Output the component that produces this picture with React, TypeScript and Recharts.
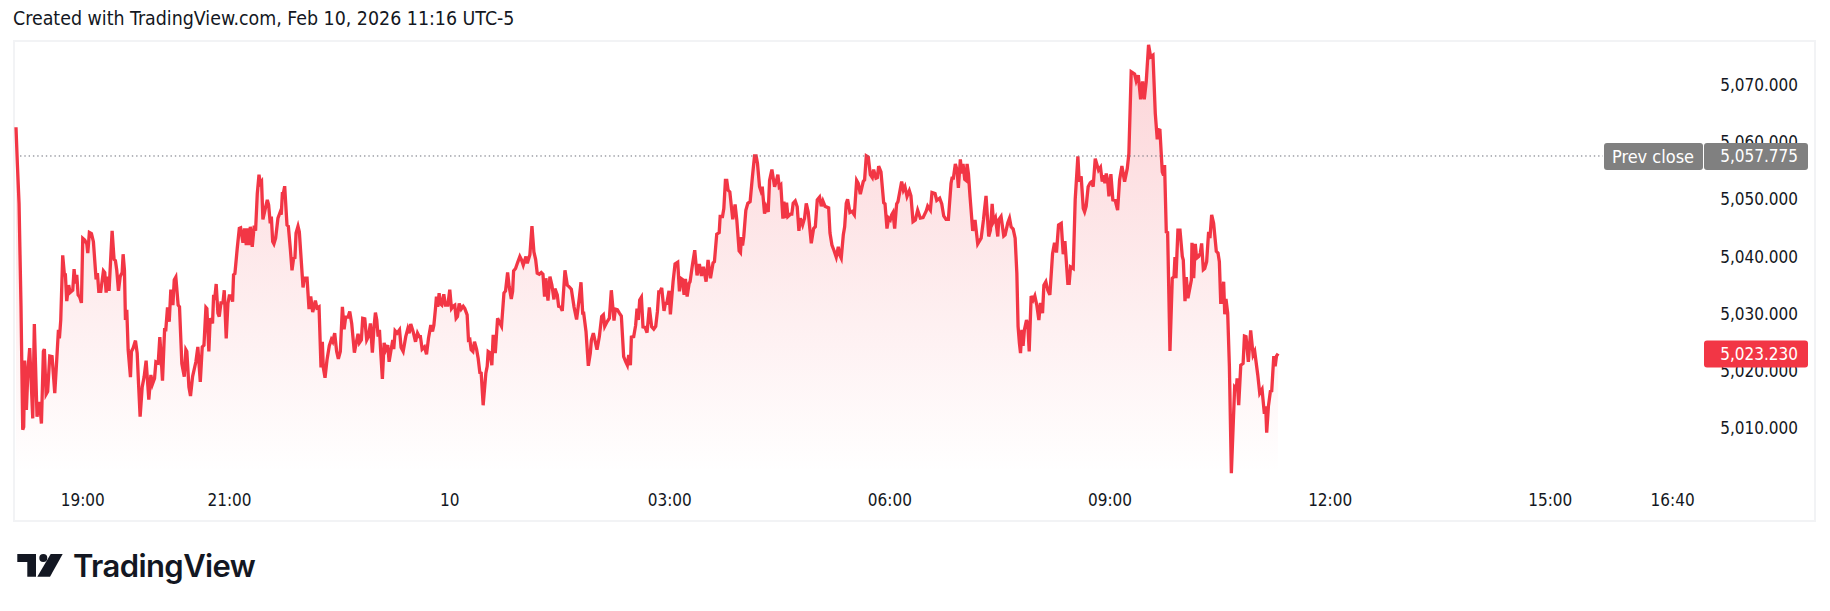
import React from 'react'
import { AreaChart, Area, XAxis, YAxis, ReferenceLine } from 'recharts'

const eveningMinutes: number[] = [
    5.4, 6.5, 7.9, 9.5, 10.9, 11.7, 12.5, 13.9, 15.2, 16.6,
    17.4, 19.1, 20.4, 22.6, 24.0, 24.8, 26.2, 27.8, 28.6, 30.0,
    31.3, 33.0, 34.9, 37.1, 38.7, 40.1, 40.9, 42.0, 43.6, 45.0,
    45.8, 46.9, 48.5, 49.6, 51.8, 52.9, 54.0, 55.1, 56.2, 57.5,
    58.9, 60.0, 61.6, 63.3, 64.1, 65.4, 67.1, 68.7, 70.9, 72.0,
    73.1, 74.7, 76.9, 78.0, 79.1, 80.5, 81.5, 84.0, 85.6, 86.7,
    87.8, 89.2, 90.6, 92.2, 93.0, 94.1, 94.9, 96.0, 97.1, 99.0,
    99.8, 101.2, 103.1, 104.5, 105.6, 106.9, 108.6, 110.2, 111.8, 114.0,
    115.7, 117.0, 118.7, 119.8, 121.7, 123.0, 123.9, 125.2, 126.9, 127.9,
    129.3, 130.7, 132.0, 133.7, 134.8, 136.1, 138.0, 139.1, 141.0, 143.0,
    144.3, 145.1, 146.8, 148.1, 149.8, 152.5, 154.1, 156.1, 157.7, 159.1,
    160.7, 161.5, 163.1, 164.2, 166.1, 167.0, 167.8, 169.1, 170.5, 171.6,
    173.0, 174.6, 175.7,
]
const eveningPrices: number[] = [
    5062.8, 5056.5, 5049.5, 5031.4, 5009.9, 5010.4, 5022.0, 5013.4, 5020.4, 5024.2,
    5020.4, 5011.9, 5028.4, 5012.2, 5014.5, 5014.5, 5011.0, 5023.6, 5024.0, 5016.1,
    5016.6, 5022.8, 5022.7, 5016.3, 5022.1, 5027.4, 5025.9, 5029.1, 5040.4, 5037.0,
    5037.0, 5032.4, 5035.2, 5033.9, 5034.3, 5038.0, 5035.5, 5037.0, 5033.5, 5033.1,
    5032.1, 5043.4, 5043.1, 5042.4, 5040.8, 5044.4, 5044.2, 5042.8, 5036.2, 5037.3,
    5034.1, 5034.1, 5037.7, 5037.4, 5033.9, 5036.7, 5034.2, 5044.7, 5039.7, 5039.5,
    5037.8, 5034.2, 5036.7, 5037.4, 5040.6, 5037.8, 5029.1, 5030.9, 5023.9, 5019.1,
    5023.6, 5024.2, 5025.5, 5023.3, 5018.0, 5012.2, 5017.4, 5019.2, 5022.0, 5015.2,
    5019.5, 5017.9, 5018.9, 5021.8, 5021.6, 5026.1, 5023.3, 5018.5, 5027.4, 5027.4,
    5031.3, 5028.8, 5034.4, 5031.7, 5036.1, 5036.6, 5031.7, 5031.4, 5021.5, 5019.2,
    5023.9, 5023.6, 5017.4, 5015.8, 5019.2, 5021.8, 5024.4, 5018.3, 5024.4, 5024.7,
    5031.3, 5031.1, 5023.6, 5029.4, 5028.5, 5033.5, 5032.6, 5035.4, 5030.3, 5029.7,
    5032.1, 5032.1, 5034.3,
]

const nightMinutes: number[] = [
    177.3, 178.7, 179.8, 181.4, 182.5, 183.3, 184.4, 186.3, 188.0, 189.1,
    191.0, 192.3, 193.7, 194.8, 195.9, 197.0, 198.6, 200.2, 201.3, 202.7,
    204.1, 205.2, 206.2, 207.3, 209.3, 210.9, 212.0, 213.3, 214.2, 215.3,
    216.3, 217.7, 219.6, 221.5, 222.3, 223.2, 224.0, 225.1, 227.0, 228.1,
    229.7, 231.1, 232.4, 233.5, 234.4, 236.0, 237.1, 240.1, 241.2, 243.4,
    245.0, 246.4, 248.0, 249.1, 250.2, 251.5, 253.2, 254.8, 255.9, 256.7,
    258.1, 259.7, 261.6, 263.3, 264.4, 266.0, 267.6, 269.0, 270.6, 272.3,
    273.7, 275.0, 276.9, 278.3, 279.9, 282.1, 283.5, 285.1, 286.2, 287.8,
    288.9, 290.6, 292.2, 293.6, 295.2, 296.8, 298.2, 299.3, 300.4, 301.5,
    302.6, 303.7, 305.0, 306.4, 307.8, 309.4, 310.5, 312.1, 313.5, 314.3,
    315.4, 317.0, 319.0, 320.3, 322.0, 324.1, 325.8, 326.9, 328.2, 330.1,
    332.1, 333.7, 335.1, 336.1, 337.5, 339.4, 341.1, 342.7, 344.6, 346.0,
    347.1, 348.4, 349.2, 350.3, 351.4,
]
const nightPrices: number[] = [
    5025.9, 5032.0, 5033.3, 5033.3, 5032.3, 5037.0, 5037.2, 5041.6, 5045.1, 5045.2,
    5042.6, 5045.1, 5042.2, 5045.1, 5042.2, 5045.4, 5041.9, 5045.6, 5044.7, 5051.2,
    5054.5, 5053.0, 5053.3, 5046.7, 5048.6, 5050.1, 5049.2, 5046.0, 5047.2, 5042.8,
    5042.4, 5043.4, 5046.9, 5048.0, 5047.5, 5051.2, 5051.2, 5052.5, 5045.7, 5045.5,
    5041.6, 5037.8, 5039.9, 5040.0, 5044.3, 5045.5, 5044.5, 5034.8, 5036.4, 5036.4,
    5031.0, 5033.2, 5030.5, 5031.4, 5032.5, 5031.2, 5031.4, 5020.8, 5025.3, 5020.8,
    5019.0, 5022.1, 5024.6, 5025.7, 5025.3, 5026.8, 5023.6, 5022.3, 5023.6, 5031.4,
    5027.5, 5029.6, 5029.6, 5030.6, 5028.5, 5023.4, 5025.0, 5026.7, 5025.1, 5025.6,
    5029.4, 5029.3, 5025.6, 5026.2, 5028.5, 5023.4, 5028.0, 5030.4, 5029.1, 5026.2,
    5027.4, 5023.3, 5018.8, 5025.1, 5023.9, 5024.7, 5021.8, 5023.9, 5025.6, 5024.0,
    5027.2, 5026.8, 5027.4, 5024.3, 5023.6, 5026.2, 5027.6, 5026.8, 5028.4, 5027.1,
    5025.3, 5026.8, 5026.2, 5026.2, 5024.0, 5024.4, 5023.1, 5025.9, 5028.2, 5027.1,
    5028.2, 5031.1, 5033.2, 5031.4, 5033.8,
]

const midnightMinutes: number[] = [
    352.5, 353.6, 355.2, 356.6, 358.5, 360.1, 361.5, 362.9, 364.2, 365.3,
    366.4, 367.8, 369.4, 371.1, 372.4, 374.3, 375.4, 376.5, 377.6, 379.0,
    380.3, 382.0, 383.3, 384.7, 385.8, 387.4, 389.6, 390.7, 391.5, 392.9,
    394.5, 395.6, 397.3, 399.2, 400.5, 402.4, 404.4, 405.7, 407.4, 408.7,
    410.4, 411.5, 412.3, 413.9, 415.5, 417.4, 418.8, 420.2, 422.4, 423.5,
    425.6, 427.3, 428.9, 430.3, 431.6, 433.3, 434.9, 436.3, 437.6, 438.7,
    440.4, 442.0, 443.6, 445.3, 446.1, 448.0, 449.1, 450.7, 452.1, 454.3,
    456.2, 457.8, 459.5, 461.7, 463.8, 466.0, 467.4, 468.8, 469.6, 471.5,
    473.4, 475.0, 475.9, 477.5, 480.5, 482.4, 484.3, 485.7, 486.8, 488.7,
    490.6, 492.2, 494.4, 495.5, 497.1, 498.8, 500.4, 502.3, 504.0, 505.3,
    506.4, 507.8, 508.6, 510.5, 512.1, 513.2, 514.3, 515.4, 516.8, 518.1,
    519.8, 521.4, 523.3, 525.2, 526.9,
]
const midnightPrices: number[] = [
    5031.9, 5031.7, 5033.6, 5031.7, 5031.7, 5034.4, 5031.1, 5031.5, 5031.7, 5029.4,
    5029.7, 5032.0, 5031.0, 5031.5, 5031.1, 5030.0, 5025.6, 5025.7, 5023.9, 5023.6,
    5025.3, 5024.0, 5022.4, 5019.9, 5019.8, 5014.2, 5019.8, 5021.0, 5023.6, 5023.4,
    5021.2, 5026.5, 5023.3, 5029.4, 5028.8, 5028.0, 5033.8, 5034.2, 5037.4, 5034.9,
    5032.8, 5034.1, 5037.7, 5038.1, 5039.1, 5040.2, 5039.6, 5038.7, 5040.2, 5039.0,
    5040.5, 5045.5, 5041.0, 5039.7, 5037.3, 5037.1, 5037.4, 5037.1, 5033.2, 5036.4,
    5032.5, 5036.7, 5035.2, 5032.7, 5034.6, 5033.5, 5031.5, 5031.4, 5030.7, 5037.8,
    5035.2, 5034.9, 5034.5, 5031.4, 5029.2, 5032.9, 5035.7, 5030.3, 5030.3, 5027.1,
    5021.1, 5023.3, 5025.6, 5026.8, 5023.9, 5026.2, 5029.7, 5030.0, 5028.0, 5028.8,
    5029.4, 5034.3, 5029.0, 5031.0, 5030.9, 5030.3, 5029.8, 5022.7, 5021.8, 5021.2,
    5023.0, 5021.2, 5026.1, 5026.2, 5028.2, 5031.1, 5029.1, 5032.6, 5033.1, 5027.9,
    5027.8, 5026.9, 5031.3, 5027.9, 5027.5,
]

const earlyMinutes: number[] = [
    528.5, 529.9, 531.0, 532.0, 533.4, 535.3, 536.4, 537.5, 539.4, 540.5,
    542.7, 544.3, 546.5, 547.9, 549.0, 550.3, 551.7, 552.8, 554.2, 555.8,
    556.6, 558.5, 560.4, 562.3, 564.2, 565.9, 567.5, 569.7, 571.3, 573.3,
    575.4, 576.5, 578.4, 580.4, 581.2, 583.1, 584.2, 585.5, 586.6, 587.7,
    589.1, 591.5, 593.4, 594.8, 596.7, 597.8, 598.6, 599.5, 600.5, 602.2,
    603.8, 605.7, 607.6, 609.3, 610.6, 611.7, 613.4, 614.5, 615.6, 617.5,
    618.8, 620.5, 621.6, 623.5, 625.7, 627.0, 628.4, 629.5, 630.8, 632.5,
    633.3, 634.4, 635.5, 636.6, 638.7, 639.8, 640.9, 642.6, 644.2, 645.6,
    646.7, 648.6, 650.2, 651.6, 653.2, 655.7, 657.6, 659.0, 660.6, 662.5,
    663.9, 665.2, 666.9, 669.9, 671.0, 672.6, 674.2, 676.1, 677.8, 678.9,
    680.2, 681.9, 683.0, 684.3, 685.4, 687.3, 689.0, 690.9, 692.8, 694.1,
    695.8, 698.2, 699.3, 700.7, 702.3, 704.0,
]
const earlyPrices: number[] = [
    5028.0, 5030.6, 5034.0, 5034.0, 5034.7, 5030.7, 5032.0, 5032.0, 5034.2, 5030.1,
    5035.8, 5038.9, 5039.2, 5034.1, 5036.4, 5036.2, 5033.5, 5036.3, 5033.2, 5035.5,
    5035.8, 5038.7, 5041.3, 5036.9, 5038.9, 5036.8, 5038.4, 5035.8, 5039.6, 5036.4,
    5039.1, 5039.3, 5044.1, 5044.4, 5047.2, 5047.2, 5048.6, 5053.5, 5053.5, 5051.8,
    5051.5, 5046.7, 5049.3, 5046.6, 5041.2, 5040.9, 5043.6, 5042.1, 5043.7, 5048.3,
    5049.5, 5049.8, 5054.2, 5057.8, 5057.8, 5056.5, 5052.4, 5051.7, 5052.4, 5047.7,
    5048.9, 5048.0, 5053.5, 5055.4, 5052.4, 5053.3, 5054.5, 5052.4, 5052.7, 5046.8,
    5049.8, 5046.9, 5049.6, 5047.2, 5047.6, 5047.6, 5049.5, 5049.9, 5048.9, 5044.7,
    5046.9, 5045.7, 5046.9, 5049.5, 5048.0, 5042.5, 5045.1, 5045.4, 5050.1, 5050.6,
    5049.0, 5049.9, 5049.0, 5048.7, 5044.3, 5042.2, 5041.3, 5040.1, 5041.9, 5040.5,
    5039.9, 5044.0, 5045.4, 5049.5, 5050.2, 5047.9, 5048.1, 5047.5, 5053.5, 5053.0,
    5051.1, 5053.3, 5053.6, 5057.8, 5057.6, 5054.5,
]

const morningMinutes: number[] = [
    705.6, 706.7, 708.6, 709.7, 710.8, 712.7, 714.9, 716.0, 717.6, 719.0,
    720.3, 721.4, 722.5, 723.9, 725.5, 726.6, 729.6, 731.0, 732.3, 734.0,
    735.9, 737.2, 738.9, 740.8, 742.7, 744.9, 747.1, 749.8, 750.9, 753.1,
    754.4, 756.9, 758.3, 760.7, 762.4, 764.0, 765.9, 767.8, 770.0, 770.8,
    771.9, 773.5, 774.9, 776.0, 777.6, 778.7, 779.8, 781.2, 782.3, 783.1,
    784.2, 785.5, 787.7, 789.6, 791.8, 794.6, 796.5, 797.3, 798.6, 800.8,
    802.2, 803.6, 804.7, 806.3, 808.2, 809.0, 810.9, 813.1, 814.2, 816.4,
    817.8, 819.1, 820.8, 822.4, 823.8, 824.8, 825.9, 826.8, 827.9, 828.9,
    830.0, 831.7, 832.8, 833.9, 835.5, 837.1, 838.5, 840.1, 841.8, 843.1,
    844.8, 845.9, 847.5, 849.1, 850.8, 853.0, 854.6, 856.2, 857.9, 860.1,
    861.7, 863.1, 865.5, 866.6, 867.7, 869.9, 871.5, 873.7, 874.8, 876.4,
    878.1, 879.2,
]
const morningPrices: number[] = [
    5054.0, 5055.4, 5053.9, 5054.0, 5056.0, 5055.0, 5049.6, 5049.4, 5045.1, 5046.9,
    5046.6, 5047.5, 5047.9, 5045.1, 5049.4, 5049.8, 5053.3, 5051.8, 5052.4, 5050.7,
    5051.7, 5050.8, 5046.3, 5046.6, 5048.3, 5046.9, 5047.0, 5048.2, 5049.0, 5048.3,
    5051.4, 5051.2, 5050.0, 5050.4, 5049.4, 5047.3, 5046.7, 5046.7, 5053.0, 5053.9,
    5053.9, 5056.4, 5055.3, 5052.2, 5057.2, 5054.7, 5056.4, 5053.7, 5053.5, 5056.4,
    5054.7, 5050.7, 5044.7, 5046.6, 5042.4, 5043.4, 5046.6, 5048.3, 5050.8, 5043.7,
    5044.8, 5049.4, 5046.3, 5047.0, 5043.7, 5046.6, 5047.2, 5043.8, 5044.0, 5046.1,
    5046.9, 5045.4, 5045.0, 5043.4, 5037.3, 5028.0, 5025.0, 5023.3, 5027.4, 5024.6,
    5027.4, 5029.1, 5028.2, 5023.6, 5033.3, 5032.6, 5033.3, 5031.7, 5029.1, 5032.1,
    5030.3, 5035.2, 5035.8, 5034.3, 5033.5, 5040.7, 5042.6, 5040.9, 5045.7, 5046.0,
    5040.6, 5042.9, 5035.5, 5035.5, 5038.4, 5038.1, 5050.1, 5057.7, 5053.3, 5054.2,
    5048.6, 5048.0,
]

const sessionMinutes: number[] = [
    880.5, 882.1, 883.8, 885.1, 886.2, 887.9, 890.6, 892.2, 893.6, 894.7,
    895.8, 896.9, 898.0, 899.1, 900.7, 902.3, 904.2, 906.2, 907.8, 909.7,
    911.9, 914.1, 915.4, 917.3, 920.1, 921.4, 923.1, 925.0, 926.6, 928.0,
    929.6, 931.5, 933.2, 935.1, 937.0, 938.6, 939.4, 940.8, 942.7, 943.8,
    944.6, 946.0, 947.1, 949.0, 950.9, 952.3, 953.1, 953.9, 955.5, 957.2,
    959.1, 959.9, 961.3, 962.4, 963.7, 966.5, 967.0, 968.4, 969.7, 970.8,
    972.5, 973.8, 974.9, 976.3, 977.4, 979.0, 980.6, 981.7, 983.1, 984.7,
    986.9, 988.3, 989.4, 990.5, 991.3, 992.9, 993.8, 994.8, 996.2, 997.6,
    999.2, 1001.9, 1003.3, 1003.9, 1005.2, 1006.9, 1008.8, 1009.9, 1011.2, 1013.1,
    1015.0, 1017.0, 1018.3, 1020.8, 1022.4, 1024.3, 1026.2, 1027.3, 1028.1, 1029.5,
    1031.1, 1032.2, 1033.9, 1035.0, 1036.1, 1037.4,
]
const sessionPrices: number[] = [
    5049.0, 5052.4, 5053.1, 5053.3, 5052.4, 5057.3, 5055.3, 5055.8, 5053.3, 5054.4,
    5053.0, 5054.7, 5053.6, 5050.7, 5054.6, 5050.1, 5050.0, 5048.3, 5053.6, 5056.0,
    5053.3, 5055.6, 5058.2, 5072.5, 5072.1, 5070.9, 5071.9, 5067.7, 5070.8, 5067.7,
    5070.8, 5077.2, 5075.1, 5075.4, 5065.2, 5060.7, 5062.4, 5062.3, 5055.0, 5054.4,
    5056.2, 5044.5, 5044.4, 5023.7, 5036.4, 5036.7, 5040.1, 5036.4, 5044.8, 5044.8,
    5040.2, 5039.6, 5032.4, 5036.6, 5032.9, 5036.1, 5042.6, 5036.4, 5042.4, 5039.9,
    5040.2, 5040.8, 5042.5, 5037.9, 5038.1, 5039.3, 5044.5, 5043.4, 5047.5, 5046.0,
    5041.1, 5040.8, 5039.3, 5032.2, 5032.2, 5035.8, 5030.1, 5032.8, 5030.3, 5021.0,
    5002.3, 5017.4, 5017.1, 5018.9, 5014.2, 5021.2, 5021.5, 5026.3, 5026.2, 5021.8,
    5027.3, 5023.0, 5023.6, 5019.5, 5016.3, 5017.0, 5012.7, 5014.0, 5009.4, 5014.0,
    5016.6, 5016.7, 5022.8, 5021.0, 5022.8, 5023.23,
]

const timeTicks: number[] = [60, 180, 360, 540, 720, 900, 1080, 1260, 1360]
const timeLabels: string[] = ['19:00', '21:00', '10', '03:00', '06:00', '09:00', '12:00', '15:00', '16:40']
const priceTicks: number[] = [5010, 5020, 5030, 5040, 5050, 5060, 5070]

const prevClose = 5057.775
const lastPrice = 5023.23
const lowPrice = 5002.3

const timeDomain: [number, number] = [3.77, 1386.5]
const priceDomain: [number, number] = [5000.43, 5077.88]

const red = '#F23645'
const textFont = '"DejaVu Sans Condensed", "DejaVu Sans", sans-serif'

const zip = (minutes: number[], prices: number[]) =>
    minutes.map((minute, i) => ({ minute, price: prices[i] }))

const data = [
    ...zip(eveningMinutes, eveningPrices),
    ...zip(nightMinutes, nightPrices),
    ...zip(midnightMinutes, midnightPrices),
    ...zip(earlyMinutes, earlyPrices),
    ...zip(morningMinutes, morningPrices),
    ...zip(sessionMinutes, sessionPrices),
]

const formatPrice = (value: number) =>
    value.toLocaleString('en-US', { minimumFractionDigits: 3, maximumFractionDigits: 3 })

const PriceTick = (props: any) => (
    <text x={1798} y={props.y - 1} dy={6} textAnchor="end" fontSize={17} fontFamily={textFont} fill="#131722">
        {formatPrice(props.payload.value)}
    </text>
)

const TimeTick = (props: any) => (
    <text x={props.x} y={506} textAnchor="middle" fontSize={17} fontFamily={textFont} fill="#131722">
        {timeLabels[timeTicks.indexOf(props.payload.value)]}
    </text>
)

const PrevCloseTag = (props: any) => {
    const y = props.viewBox.y
    return (
        <g fontFamily={textFont} fill="#fff">
            <rect x={1604} y={y - 13} width={99} height={27} rx={3} fill="#808080" />
            <rect x={1704} y={y - 13} width={104} height={27} rx={3} fill="#808080" />
            <text x={1653} y={y + 7} textAnchor="middle" fontSize={18}>Prev close</text>
            <text x={1798} y={y + 6} textAnchor="end" fontSize={17}>{formatPrice(prevClose)}</text>
        </g>
    )
}

const LastPriceTag = (props: any) => {
    const y = props.viewBox.y
    return (
        <g fontFamily={textFont} fill="#fff">
            <rect x={1704} y={y - 13} width={104} height={27} rx={3} fill={red} />
            <text x={1798} y={y + 6} textAnchor="end" fontSize={17}>{formatPrice(lastPrice)}</text>
        </g>
    )
}

const Logo = () => (
    <svg width={70} height={30} style={{ position: 'absolute', left: 0, top: 550 }}>
        <path d="M17.3 4H36V26.7H27.3V12H17.3Z" fill="#131722" />
        <circle cx={43.3} cy={8} r={4} fill="#131722" />
        <path d="M50.7 4H62.7L50 26.7H37.3Z" fill="#131722" />
    </svg>
)

export default function App() {
    return (
        <div style={{ position: 'absolute', left: 0, top: 0, width: 1830, height: 611, background: '#fff' }}>
            <div style={{ position: 'absolute', left: 13, top: 7, fontSize: 19.4, fontFamily: textFont, color: '#131722', whiteSpace: 'nowrap' }}>
                Created with TradingView.com, Feb 10, 2026 11:16 UTC-5
            </div>
            <div style={{ position: 'absolute', left: 13, top: 40, width: 1799, height: 478, border: '2px solid #f2f3f5' }} />
            <div style={{ position: 'absolute', left: 0, top: 0 }}>
                <AreaChart width={1830} height={611} data={data} margin={{ top: 41, right: 0, bottom: 90, left: 14 }}>
                    <defs>
                        <linearGradient id="priceFill" x1="0" y1="0" x2="0" y2="1">
                            <stop offset="0%" stopColor={red} stopOpacity={0.36} />
                            <stop offset="100%" stopColor={red} stopOpacity={0} />
                        </linearGradient>
                    </defs>
                    <XAxis
                        dataKey="minute"
                        type="number"
                        domain={timeDomain}
                        ticks={timeTicks}
                        interval={0}
                        height={37}
                        axisLine={false}
                        tickLine={false}
                        tick={<TimeTick />}
                    />
                    <YAxis
                        orientation="right"
                        domain={priceDomain}
                        ticks={priceTicks}
                        width={125}
                        axisLine={false}
                        tickLine={false}
                        tick={<PriceTick />}
                    />
                    <Area
                        type="linear"
                        dataKey="price"
                        baseValue={lowPrice}
                        stroke={red}
                        strokeWidth={3.3}
                        fill="url(#priceFill)"
                        dot={false}
                        activeDot={false}
                        isAnimationActive={false}
                    />
                    <ReferenceLine
                        segment={[{ x: 8.7, y: prevClose }, { x: 1303, y: prevClose }]}
                        stroke="#6a6d78"
                        strokeDasharray="1.4 2.9"
                    />
                </AreaChart>
            </div>
            {/* second chart on top so the price tags cover the axis labels */}
            <div style={{ position: 'absolute', left: 0, top: 0 }}>
                <AreaChart width={1830} height={611} data={data} margin={{ top: 41, right: 0, bottom: 90, left: 14 }}>
                    <XAxis dataKey="minute" type="number" domain={timeDomain} height={37} tick={false} axisLine={false} tickLine={false} />
                    <YAxis orientation="right" domain={priceDomain} width={125} tick={false} axisLine={false} tickLine={false} />
                    <Area dataKey="price" stroke="none" fill="none" dot={false} activeDot={false} isAnimationActive={false} />
                    <ReferenceLine y={prevClose} strokeOpacity={0} label={<PrevCloseTag />} />
                    <ReferenceLine y={lastPrice} strokeOpacity={0} label={<LastPriceTag />} />
                </AreaChart>
            </div>
            <Logo />
            <div style={{ position: 'absolute', left: 73, top: 547, fontSize: 31, fontWeight: 600, letterSpacing: -0.6, fontFamily: 'Inter, sans-serif', color: '#131722', whiteSpace: 'nowrap' }}>
                TradingView
            </div>
        </div>
    )
}
